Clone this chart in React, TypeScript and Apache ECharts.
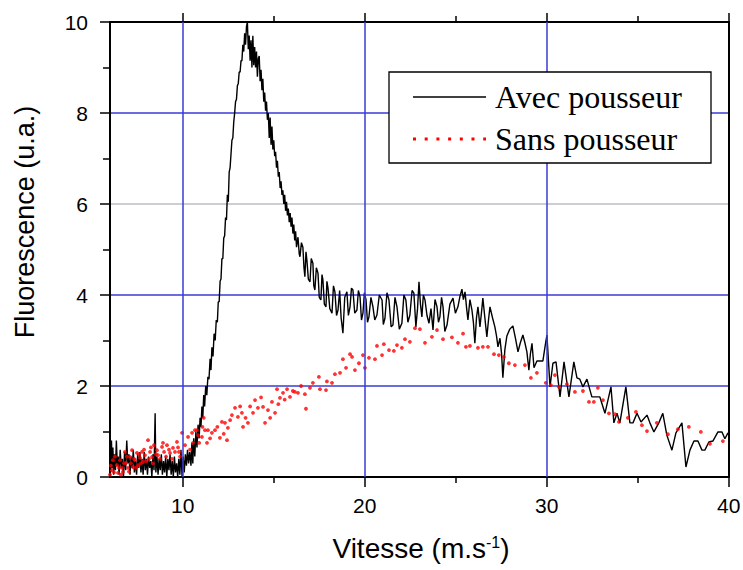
import { useEffect, useRef } from "react";
import * as echarts from "echarts";

const xMajorTicks = [10, 20, 30, 40];
const xMinorTicks = [15, 25, 35];
const xGridValues = [10, 20, 30];
const legendLabels = ["Avec pousseur", "Sans pousseur"];
const xTitle = "{a|Vitesse (m.s}{b|-1}{a|)}";
const yTitle = "Fluorescence (u.a.)";

// Avec pousseur : [vitesse, fluorescence]
const avecPousseur: number[][] = [
  [6.0, 0.55], [6.04, 0.1], [6.08, 0.8], [6.12, 0.2], [6.16, 0.65], [6.2, 0.05], [6.25, 0.5], [6.3, 0.15],
  [6.35, 0.8], [6.4, 0.25], [6.45, 0.45], [6.5, 0.05], [6.56, 0.6], [6.62, 0.2], [6.68, 0.4], [6.74, 0.0],
  [6.8, 0.55], [6.86, 0.15], [6.92, 0.8], [6.98, 0.3], [7.04, 0.5], [7.1, 0.05], [7.16, 0.45], [7.22, 0.2],
  [7.28, 0.6], [7.34, 0.1], [7.4, 0.35], [7.46, 0.05], [7.52, 0.5], [7.58, 0.2], [7.64, 0.55], [7.7, 0.1],
  [7.76, 0.4], [7.82, 0.05], [7.88, 0.55], [7.94, 0.15], [8.0, 0.4], [8.06, 0.05], [8.12, 0.45], [8.18, 0.2],
  [8.24, 0.35], [8.3, 0.0], [8.36, 0.5], [8.42, 0.15], [8.48, 1.4], [8.52, 0.1], [8.58, 0.45], [8.64, 0.05],
  [8.7, 0.4], [8.76, 0.15], [8.82, 0.5], [8.88, 0.05], [8.94, 0.35], [9.0, 0.1], [9.06, 0.45], [9.12, 0.0],
  [9.18, 0.4], [9.24, 0.15], [9.3, 0.5], [9.36, 0.05], [9.42, 0.35], [9.48, 0.0], [9.54, 0.45], [9.6, 0.1],
  [9.66, 0.3], [9.72, 0.0], [9.78, 0.4], [9.84, 0.05], [9.9, 0.6], [9.96, 0.0], [10.02, 0.45], [10.08, 0.1],
  [10.14, 0.5], [10.2, 0.25], [10.26, 0.6], [10.32, 0.3], [10.38, 0.55],
  [10.45, 0.25], [10.5, 0.75], [10.55, 0.3], [10.6, 0.85], [10.66, 0.45], [10.72, 1.0], [10.78, 0.65], [10.84, 1.15],
  [10.9, 0.85], [10.95, 1.3], [11.0, 1.1], [11.05, 1.55], [11.1, 1.3], [11.15, 1.8], [11.2, 1.55], [11.26, 2.0],
  [11.32, 1.8], [11.38, 2.2], [11.44, 2.15], [11.5, 2.6], [11.55, 2.35], [11.6, 2.85], [11.66, 2.65], [11.72, 3.15],
  [11.78, 3.0], [11.84, 3.45], [11.9, 3.4], [11.95, 3.85], [12.0, 3.85], [12.05, 4.3], [12.1, 4.35], [12.15, 4.8],
  [12.2, 4.8], [12.25, 5.25], [12.3, 5.3], [12.35, 5.7], [12.4, 5.65], [12.45, 6.2], [12.5, 6.05], [12.55, 6.7],
  [12.6, 6.8], [12.65, 7.1], [12.7, 7.4], [12.75, 7.45], [12.8, 7.8], [12.85, 8.0], [12.9, 8.25], [12.95, 8.3],
  [13.0, 8.6], [13.05, 8.65], [13.1, 8.9], [13.15, 8.9], [13.2, 9.15], [13.25, 9.15], [13.3, 9.5], [13.35, 9.35],
  [13.4, 9.75], [13.45, 9.5], [13.5, 9.9], [13.55, 10.0], [13.6, 9.4], [13.65, 9.7], [13.7, 9.15], [13.75, 9.6],
  [13.8, 9.0], [13.85, 9.7], [13.9, 9.05], [13.95, 9.45], [14.0, 9.0], [14.05, 9.35], [14.1, 8.8], [14.15, 9.2],
  [14.2, 9.25], [14.25, 8.7], [14.3, 8.95], [14.35, 8.5], [14.4, 8.75], [14.45, 8.25], [14.5, 8.45], [14.55, 8.05],
  [14.6, 8.25], [14.65, 7.85], [14.7, 8.0], [14.75, 7.45], [14.8, 7.9], [14.85, 7.3], [14.9, 7.7], [14.95, 7.2],
  [15.0, 7.4], [15.05, 7.05], [15.1, 7.15], [15.15, 6.8], [15.2, 6.95], [15.25, 6.6], [15.3, 6.7], [15.35, 6.35],
  [15.4, 6.5], [15.45, 6.2], [15.5, 6.3], [15.55, 6.0], [15.6, 6.2], [15.65, 5.85], [15.7, 6.05], [15.75, 5.75],
  [15.8, 5.9], [15.85, 5.6], [15.9, 5.8], [15.95, 5.5], [16.0, 5.7], [16.05, 5.35], [16.1, 5.55], [16.15, 5.2],
  [16.2, 5.4], [16.25, 5.05], [16.33, 5.27], [16.4, 4.9], [16.44, 4.84], [16.52, 5.15], [16.6, 5.05], [16.66, 4.6],
  [16.71, 4.4], [16.77, 4.95], [16.82, 4.77], [16.9, 4.35], [16.99, 4.29], [17.06, 4.8], [17.15, 4.7], [17.2, 4.2],
  [17.26, 4.11], [17.34, 4.6], [17.43, 4.48], [17.5, 3.95], [17.59, 3.89], [17.65, 4.45], [17.7, 4.33], [17.78, 3.8],
  [17.87, 3.74], [17.92, 4.3], [17.98, 4.15], [18.08, 3.7], [18.2, 3.6], [18.28, 4.2], [18.36, 4.07], [18.45, 3.55],
  [18.53, 3.67], [18.62, 4.1], [18.7, 3.5], [18.8, 3.16], [18.9, 3.95], [19.02, 4.07], [19.1, 3.55], [19.19, 3.74],
  [19.27, 4.15], [19.35, 4.11], [19.45, 3.6], [19.57, 3.67], [19.65, 4.1], [19.74, 3.96], [19.82, 3.45], [19.9, 3.6],
  [19.98, 4.05], [20.07, 3.89], [20.15, 3.4], [20.23, 3.52], [20.34, 3.95], [20.45, 3.74], [20.55, 3.45], [20.67, 3.56],
  [20.8, 4.0], [20.95, 3.89], [21.02, 3.35], [21.11, 3.49], [21.22, 4.05], [21.33, 3.89], [21.45, 3.3], [21.55, 3.34],
  [21.66, 3.95], [21.77, 3.74], [21.9, 3.25], [22.04, 3.38], [22.15, 4.0], [22.26, 3.89], [22.37, 3.4], [22.48, 3.56],
  [22.6, 4.1], [22.7, 4.04], [22.81, 3.3], [22.9, 3.7], [22.98, 4.29], [23.06, 3.8], [23.14, 3.52], [23.22, 4.0],
  [23.31, 3.89], [23.42, 3.55], [23.53, 3.38], [23.64, 3.7], [23.75, 3.23], [23.86, 3.9], [23.97, 3.74], [24.05, 3.4],
  [24.13, 3.52], [24.22, 3.95], [24.3, 3.74], [24.4, 3.2], [24.52, 3.34], [24.68, 3.8], [24.85, 3.93], [24.98, 3.6],
  [25.12, 3.74], [25.22, 3.95], [25.34, 4.13], [25.42, 3.9], [25.51, 4.07], [25.6, 3.7], [25.67, 3.45], [25.78, 3.9],
  [25.89, 3.67], [25.97, 3.4], [26.05, 2.94], [26.14, 3.5], [26.22, 3.74], [26.27, 3.55], [26.33, 3.3], [26.41, 3.6],
  [26.49, 3.93], [26.6, 3.5], [26.71, 3.08], [26.8, 3.45], [26.88, 3.74], [27.02, 3.5], [27.15, 3.3], [27.24, 3.1],
  [27.32, 2.86], [27.43, 3.05], [27.52, 2.7], [27.59, 2.18], [27.7, 2.8], [27.81, 3.1], [27.97, 3.25], [28.14, 3.32],
  [28.28, 3.05], [28.42, 2.75], [28.55, 2.95], [28.69, 3.12], [28.8, 2.95], [28.91, 2.75], [29.02, 2.35], [29.1, 2.7],
  [29.19, 2.94], [29.3, 2.4], [29.46, 2.55], [29.62, 2.55], [29.79, 2.55], [29.92, 2.9], [30.01, 3.12], [30.18, 1.98],
  [30.34, 2.5], [30.51, 2.53], [30.73, 1.76], [30.95, 2.53], [31.22, 1.76], [31.49, 2.53], [31.66, 2.18], [31.82, 2.15],
  [31.99, 1.98], [32.21, 2.15], [32.48, 1.76], [32.7, 1.76], [32.92, 1.76], [33.2, 1.4], [33.53, 1.98], [33.69, 1.19],
  [33.86, 1.4], [34.02, 1.19], [34.35, 1.98], [34.57, 1.19], [34.74, 1.19], [34.96, 1.4], [35.18, 1.21], [35.51, 1.36],
  [35.67, 1.19], [35.89, 0.99], [36.16, 1.19], [36.38, 1.4], [36.6, 0.92], [36.88, 0.59], [37.1, 0.97], [37.43, 1.19],
  [37.65, 0.22], [37.87, 0.59], [38.09, 0.79], [38.31, 0.79], [38.53, 0.59], [38.69, 0.59], [38.91, 0.77], [39.13, 0.79],
  [39.41, 0.99], [39.63, 0.99], [39.79, 0.84], [39.96, 0.97],
];

// Sans pousseur : [vitesse, fluorescence]
const sansPousseur: number[][] = [
  [6.0, 0.05], [6.05, 0.25], [6.11, 0.15], [6.16, 0.37], [6.22, 0.1], [6.27, 0.45], [6.38, 0.26], [6.44, 0.09],
  [6.49, 0.2], [6.55, 0.37], [6.6, 0.05], [6.66, 0.2], [6.71, 0.11], [6.77, 0.3], [6.82, 0.55], [6.88, 0.31],
  [6.93, 0.45], [6.99, 0.2], [7.04, 0.12], [7.1, 0.44], [7.15, 0.3], [7.21, 0.59], [7.26, 0.22], [7.32, 0.4],
  [7.37, 0.37], [7.43, 0.2], [7.48, 0.53], [7.54, 0.26], [7.59, 0.5], [7.65, 0.42], [7.7, 0.3], [7.76, 0.55],
  [7.81, 0.33], [7.87, 0.6], [7.92, 0.48], [7.98, 0.35], [8.09, 0.81], [8.14, 0.4], [8.2, 0.55], [8.25, 0.65],
  [8.31, 0.44], [8.36, 0.3], [8.42, 0.7], [8.53, 0.5], [8.58, 0.59], [8.64, 0.48], [8.75, 0.4], [8.86, 0.66],
  [8.91, 0.75], [8.97, 0.55], [9.08, 0.45], [9.13, 0.7], [9.24, 0.6], [9.3, 0.53], [9.41, 0.4], [9.46, 0.64],
  [9.57, 0.55], [9.68, 0.77], [9.74, 0.65], [9.79, 0.55], [9.85, 0.45], [9.96, 0.97], [10.12, 0.7], [10.29, 0.88],
  [10.4, 0.6], [10.51, 0.97], [10.56, 0.75], [10.67, 1.03], [10.78, 1.03], [10.84, 0.92], [10.9, 0.75], [11.05, 0.88],
  [11.08, 1.1], [11.15, 1.3], [11.22, 1.03], [11.33, 0.75], [11.38, 1.03], [11.5, 0.85], [11.6, 0.97], [11.77, 1.03],
  [11.9, 1.1], [12.04, 0.86], [12.15, 1.21], [12.25, 0.95], [12.32, 1.19], [12.43, 0.81], [12.48, 1.08], [12.6, 1.25],
  [12.7, 1.36], [12.87, 1.52], [13.03, 1.32], [13.15, 1.55], [13.25, 1.41], [13.31, 1.1], [13.45, 1.3], [13.58, 1.19],
  [13.7, 1.55], [13.86, 1.41], [13.97, 1.69], [14.13, 1.52], [14.3, 1.75], [14.41, 1.54], [14.52, 1.19], [14.68, 1.47],
  [14.8, 1.3], [14.9, 1.65], [15.07, 1.41], [15.18, 1.93], [15.25, 1.6], [15.34, 1.74], [15.51, 1.85], [15.6, 1.7],
  [15.73, 1.93], [15.89, 1.76], [16.05, 1.89], [16.16, 1.87], [16.33, 1.85], [16.5, 2.0], [16.71, 1.82], [16.77, 1.5],
  [16.99, 1.96], [17.15, 2.07], [17.48, 2.2], [17.54, 1.93], [17.87, 1.91], [17.92, 2.1], [18.2, 2.07], [18.36, 2.26],
  [18.64, 2.29], [18.8, 2.59], [18.97, 2.4], [19.19, 2.7], [19.3, 2.64], [19.46, 2.35], [19.68, 2.5], [19.9, 2.68],
  [20.01, 2.4], [20.23, 2.62], [20.56, 2.59], [20.67, 2.88], [20.95, 2.68], [21.05, 2.92], [21.33, 2.79], [21.6, 2.77],
  [21.77, 2.9], [22.04, 2.84], [22.21, 3.03], [22.48, 2.97], [22.76, 3.27], [23.03, 3.25], [23.31, 2.95], [23.69, 3.08],
  [23.97, 3.23], [24.3, 3.03], [24.79, 3.07], [25.12, 2.95], [25.4, 3.15], [25.56, 2.86], [25.78, 2.88], [26.22, 2.84],
  [26.49, 2.86], [26.77, 2.86], [27.1, 2.7], [27.37, 2.68], [27.65, 2.64], [27.92, 2.5], [28.25, 2.46], [28.8, 2.46],
  [29.13, 2.18], [29.46, 2.29], [29.95, 2.07], [30.23, 2.02], [30.45, 2.24], [30.67, 1.98], [31.11, 2.04], [31.55, 1.87],
  [31.99, 1.89], [32.32, 1.65], [32.59, 1.65], [32.81, 1.96], [33.09, 1.69], [33.42, 1.4], [33.75, 1.38], [33.97, 1.21],
  [34.46, 1.3], [34.9, 1.43], [35.23, 1.14], [35.51, 1.01], [36.05, 1.19], [36.66, 0.94], [37.21, 1.05], [37.81, 1.1],
  [38.47, 0.99], [38.97, 0.73], [39.68, 0.79],
];

const SANS = '"Liberation Sans", Arial, sans-serif';
const SERIF = '"Liberation Serif", "Times New Roman", serif';
const GRID_BLUE = "#3a3ad8";
const GRID_PALE = "#bcbcc8";

export default function App() {
  const ref = useRef<HTMLDivElement>(null);
  useEffect(() => {
    const chart = echarts.init(ref.current!, null, { renderer: "svg" });
    const baseX = {
      type: "value",
      min: 6,
      max: 40,
      splitLine: { show: false },
      axisLabel: { show: false },
    };
    chart.setOption({
      animation: false,
      backgroundColor: "#ffffff",
      grid: { left: 110, top: 22, right: 14.3, bottom: 93, containLabel: false, outerBoundsMode: "none" },
      xAxis: [
        {
          ...baseX,
          position: "bottom",
          axisLine: { show: true, onZero: false, lineStyle: { color: "#000", width: 2 } },
          axisTick: { show: true, customValues: xMajorTicks, length: 10, lineStyle: { color: "#000", width: 1.5 } },
          axisLabel: { show: true, customValues: xMajorTicks, margin: 18, fontSize: 21, fontFamily: SANS, color: "#000" },
        },
        {
          ...baseX,
          position: "bottom",
          axisLine: { show: false, onZero: false },
          axisTick: { show: true, customValues: xMinorTicks, length: 6, lineStyle: { color: "#000", width: 1.5 } },
        },
        {
          ...baseX,
          position: "top",
          axisLine: { show: true, onZero: false, lineStyle: { color: "#000", width: 2 } },
          axisTick: { show: true, customValues: xMajorTicks, length: 9, lineStyle: { color: "#000", width: 1.5 } },
        },
        {
          ...baseX,
          position: "top",
          axisLine: { show: false, onZero: false },
          axisTick: { show: true, customValues: xMinorTicks, length: 6, lineStyle: { color: "#000", width: 1.5 } },
        },
      ],
      yAxis: [
        {
          type: "value",
          min: 0,
          max: 10,
          interval: 2,
          position: "left",
          axisLine: { show: true, onZero: false, lineStyle: { color: "#000", width: 2 } },
          axisTick: { show: true, length: 10, lineStyle: { color: "#000", width: 1.5 } },
          minorTick: { show: true, splitNumber: 2, length: 7, lineStyle: { color: "#000", width: 1.5 } },
          axisLabel: { margin: 22, fontSize: 21, fontFamily: SANS, color: "#000" },
          splitLine: {
            show: true,
            lineStyle: { color: [GRID_BLUE, GRID_BLUE, GRID_BLUE, GRID_PALE, GRID_BLUE, GRID_BLUE], width: 1.5, type: "solid" },
          },
        },
        {
          type: "value",
          min: 0,
          max: 10,
          position: "right",
          axisLine: { show: true, onZero: false, lineStyle: { color: "#000", width: 2 } },
          axisTick: { show: false },
          axisLabel: { show: false },
          splitLine: { show: false },
        },
      ],
      series: [
        {
          type: "line",
          data: [],
          z: 1,
          silent: true,
          markLine: {
            silent: true,
            symbol: ["none", "none"],
            label: { show: false },
            lineStyle: { color: GRID_BLUE, type: "solid", width: 1.5, opacity: 1 },
            data: xGridValues.map((v) => ({ xAxis: v })),
          },
        },
        {
          name: legendLabels[0],
          type: "line",
          data: avecPousseur,
          showSymbol: false,
          symbol: "none",
          z: 3,
          lineStyle: { color: "#000", width: 1.4 },
        },
        {
          name: legendLabels[1],
          type: "scatter",
          data: sansPousseur,
          symbol: "circle",
          symbolSize: 3.8,
          z: 4,
          itemStyle: { color: "#ff0000" },
        },
      ],
      graphic: [
        {
          type: "rect",
          z: 100,
          shape: { x: 389, y: 72, width: 322, height: 91 },
          style: { fill: "#fff", stroke: "#000", lineWidth: 1.3 },
        },
        {
          type: "line",
          z: 101,
          shape: { x1: 413, y1: 97, x2: 486, y2: 97 },
          style: { stroke: "#000", lineWidth: 1.3 },
        },
        {
          type: "text",
          z: 101,
          x: 495,
          y: 97,
          style: { text: legendLabels[0], font: `32px ${SERIF}`, fill: "#000", align: "left", verticalAlign: "middle" },
        },
        {
          type: "line",
          z: 101,
          shape: { x1: 413, y1: 139, x2: 486, y2: 139 },
          style: { stroke: "#ff0000", lineWidth: 3, lineDash: [3, 8.7] },
        },
        {
          type: "text",
          z: 101,
          x: 495,
          y: 139,
          style: { text: legendLabels[1], font: `32px ${SERIF}`, fill: "#000", align: "left", verticalAlign: "middle" },
        },
        {
          type: "text",
          x: 25,
          y: 222,
          rotation: Math.PI / 2,
          style: { text: yTitle, font: `27px ${SANS}`, fill: "#000", align: "center", verticalAlign: "middle" },
        },
        {
          type: "text",
          x: 421,
          y: 548,
          style: {
            text: xTitle,
            fill: "#000",
            align: "center",
            verticalAlign: "middle",
            rich: {
              a: { fontSize: 28, fontFamily: SANS, fill: "#000" },
              b: { fontSize: 16, fontFamily: SANS, fill: "#000", verticalAlign: "top" },
            },
          },
        },
      ],
    });
    return () => chart.dispose();
  }, []);
  return <div ref={ref} style={{ position: "fixed", left: 0, top: 0, width: 743, height: 570 }} />;
}
